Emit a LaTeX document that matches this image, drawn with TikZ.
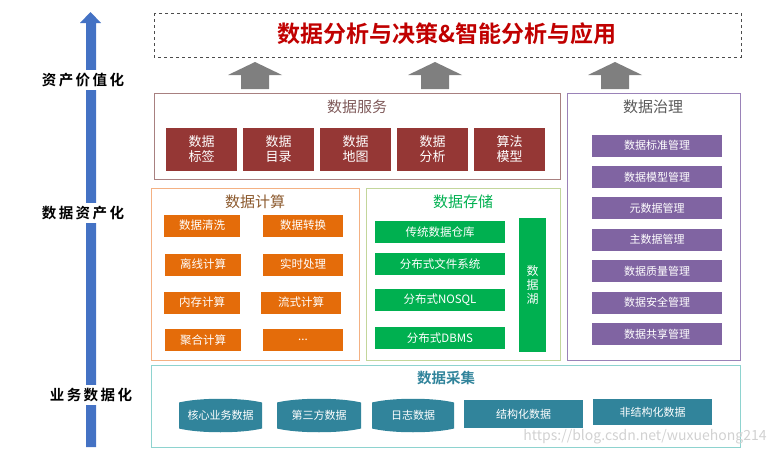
\documentclass[tikz,border=0pt]{standalone}
\usepackage{fontspec}
\setmainfont{Noto Sans CJK SC}[BoldFont={Noto Sans CJK SC Bold}]
\usetikzlibrary{positioning}

\definecolor{titlered}{HTML}{C00000}
\definecolor{srvred}{HTML}{953735}
\definecolor{srvline}{HTML}{A88080}
\definecolor{srvtext}{HTML}{7F5A5A}
\definecolor{govpurple}{HTML}{8064A2}
\definecolor{govline}{HTML}{9A82B8}
\definecolor{calcorange}{HTML}{E46C0A}
\definecolor{calcline}{HTML}{F4B183}
\definecolor{calctext}{HTML}{8C5A2E}
\definecolor{stogreen}{HTML}{00B050}
\definecolor{stoline}{HTML}{C3D69B}
\definecolor{colteal}{HTML}{31849B}
\definecolor{colline}{HTML}{8ED3CF}
\definecolor{levelblue}{HTML}{4472C4}
\definecolor{uparrow}{HTML}{7F7F7F}

\tikzset{
    layer/.style={draw=#1, line width=0.9pt},
    layertitle/.style={font=\fontsize{15}{17}\selectfont, text=#1},
    srvbox/.style={fill=srvred, text=white, minimum width=71pt, minimum height=43pt,
        align=center, font=\fontsize{13}{15}\selectfont},
    govbox/.style={fill=govpurple, text=white, minimum width=130pt, minimum height=22pt,
        font=\fontsize{11}{13}\selectfont},
    calcbox/.style={fill=calcorange, text=white, minimum height=22pt,
        font=\fontsize{11.5}{13}\selectfont},
    stobox/.style={fill=stogreen, text=white, minimum width=130pt, minimum height=22pt,
        font=\fontsize{11.5}{13}\selectfont},
    colbox/.style={fill=colteal, text=white, minimum height=27pt,
        font=\fontsize{11}{13}\selectfont},
    levellabel/.style={fill=white, inner sep=3pt, font=\bfseries\fontsize{14.5}{16}\selectfont}
}

\newcommand\datadrum[5]{%
    \fill[colteal] (#2-#4/2,#3-13) .. controls (#2-#4/4,#3-18) and (#2+#4/4,#3-18) .. (#2+#4/2,#3-13)
        -- (#2+#4/2,#3+13) .. controls (#2+#4/4,#3+18) and (#2-#4/4,#3+18) .. (#2-#4/2,#3+13) -- cycle;
    \node[font=\fontsize{11}{13}\selectfont, text=white] (#1) at (#2,#3) {#5};}

\newcommand\grayup[1]{%
    \fill[uparrow] (#1-14,89) -- (#1-14,75) -- (#1-27,75) -- (#1,62) -- (#1+27,75)
        -- (#1+14,75) -- (#1+14,89) -- cycle;}

\begin{document}
\begin{tikzpicture}[x=1pt,y=-1pt]
    \useasboundingbox (0,0) rectangle (782,455);

    % level arrow
    \fill[levelblue] (86,447) -- (86,23) -- (80,23) -- (90.5,12) -- (101,23) -- (96,23) -- (96,447) -- cycle;
    \node[levellabel] (value) at (83,80) {资\,产\,价\,值\,化};
    \node[levellabel] (asset) at (83,213) {数\,据\,资\,产\,化};
    \node[levellabel] (busi) at (91,395) {业\,务\,数\,据\,化};

    % top
    \draw[dashed, draw=black!70, line width=0.6pt] (154,13) rectangle (741,57);
    \node[text=titlered, font=\bfseries\fontsize{23}{26}\selectfont] (app) at (447,34)
        {数据分析与决策\&智能分析与应用};
    \foreach \x in {255,435,615} {\grayup{\x}}

    % data services
    \draw[layer=srvline] (154,93) rectangle (560,179);
    \node[layertitle=srvtext] (srv) at (357,107) {数据服务};
    \foreach \t [count=\i] in {{数据\\标签},{数据\\目录},{数据\\地图},{数据\\分析},{算法\\模型}}
        \node[srvbox] (srv\i) at (201.5+77*\i-77,149.5) {\t};

    % data governance
    \draw[layer=govline] (567,93) rectangle (740,360);
    \node[layertitle=black!65] (gov) at (653,107) {数据治理};
    \foreach \t [count=\i] in {数据标准管理,数据模型管理,元数据管理,主数据管理,数据质量管理,数据安全管理,数据共享管理}
        \node[govbox] (gov\i) at (657,145.5+31.4*\i-31.4) {\t};

    % data computing
    \draw[layer=calcline] (151,188) rectangle (359,360);
    \node[layertitle=calctext] (calc) at (255,202) {数据计算};
    \node[calcbox, minimum width=76pt] (calc1) at (202,225.5) {数据清洗};
    \node[calcbox, minimum width=80pt] (calc2) at (303,225.5) {数据转换};
    \node[calcbox, minimum width=76pt] (calc3) at (203,264.5) {离线计算};
    \node[calcbox, minimum width=80pt] (calc4) at (303,264.5) {实时处理};
    \node[calcbox, minimum width=76pt] (calc5) at (202,302.5) {内存计算};
    \node[calcbox, minimum width=80pt] (calc6) at (301,302.5) {流式计算};
    \node[calcbox, minimum width=76pt] (calc7) at (203,340) {聚合计算};
    \node[calcbox, minimum width=80pt] (calc8) at (303,340) {...};

    % data storage
    \draw[layer=stoline] (366,188) rectangle (560,360);
    \node[layertitle=stogreen] (sto) at (463,202) {数据存储};
    \node[stobox] (sto1) at (440,232) {传统数据仓库};
    \node[stobox] (sto2) at (440,264) {分布式文件系统};
    \node[stobox] (sto3) at (440,299.5) {分布式NOSQL};
    \node[stobox] (sto4) at (440,338) {分布式DBMS};
    \node[fill=stogreen, text=white, minimum width=27pt, minimum height=134pt, align=center,
        font=\fontsize{12}{14}\selectfont] (lake) at (532.5,285) {数\\据\\湖};

    % data collection
    \draw[layer=colline] (151,365) rectangle (740,447);
    \node[layertitle=colteal, font=\bfseries\fontsize{14.5}{16}\selectfont] (col) at (446,378) {数据采集};
    \datadrum{col1}{220.5}{415.5}{83}{核心业务数据}
    \datadrum{col2}{319}{415.5}{84}{第三方数据}
    \datadrum{col3}{413}{415.5}{82}{日志数据}
    \node[colbox, minimum width=119pt, minimum height=28pt] (col4) at (523.5,414) {结构化数据};
    \node[colbox, minimum width=119pt, minimum height=26pt] (col5) at (652.5,412) {非结构化数据};

    \node[text=black!18, font=\fontsize{14}{16}\selectfont] (mark) at (645,437) {https://blog.csdn.net/wuxuehong214};
\end{tikzpicture}
\end{document}
